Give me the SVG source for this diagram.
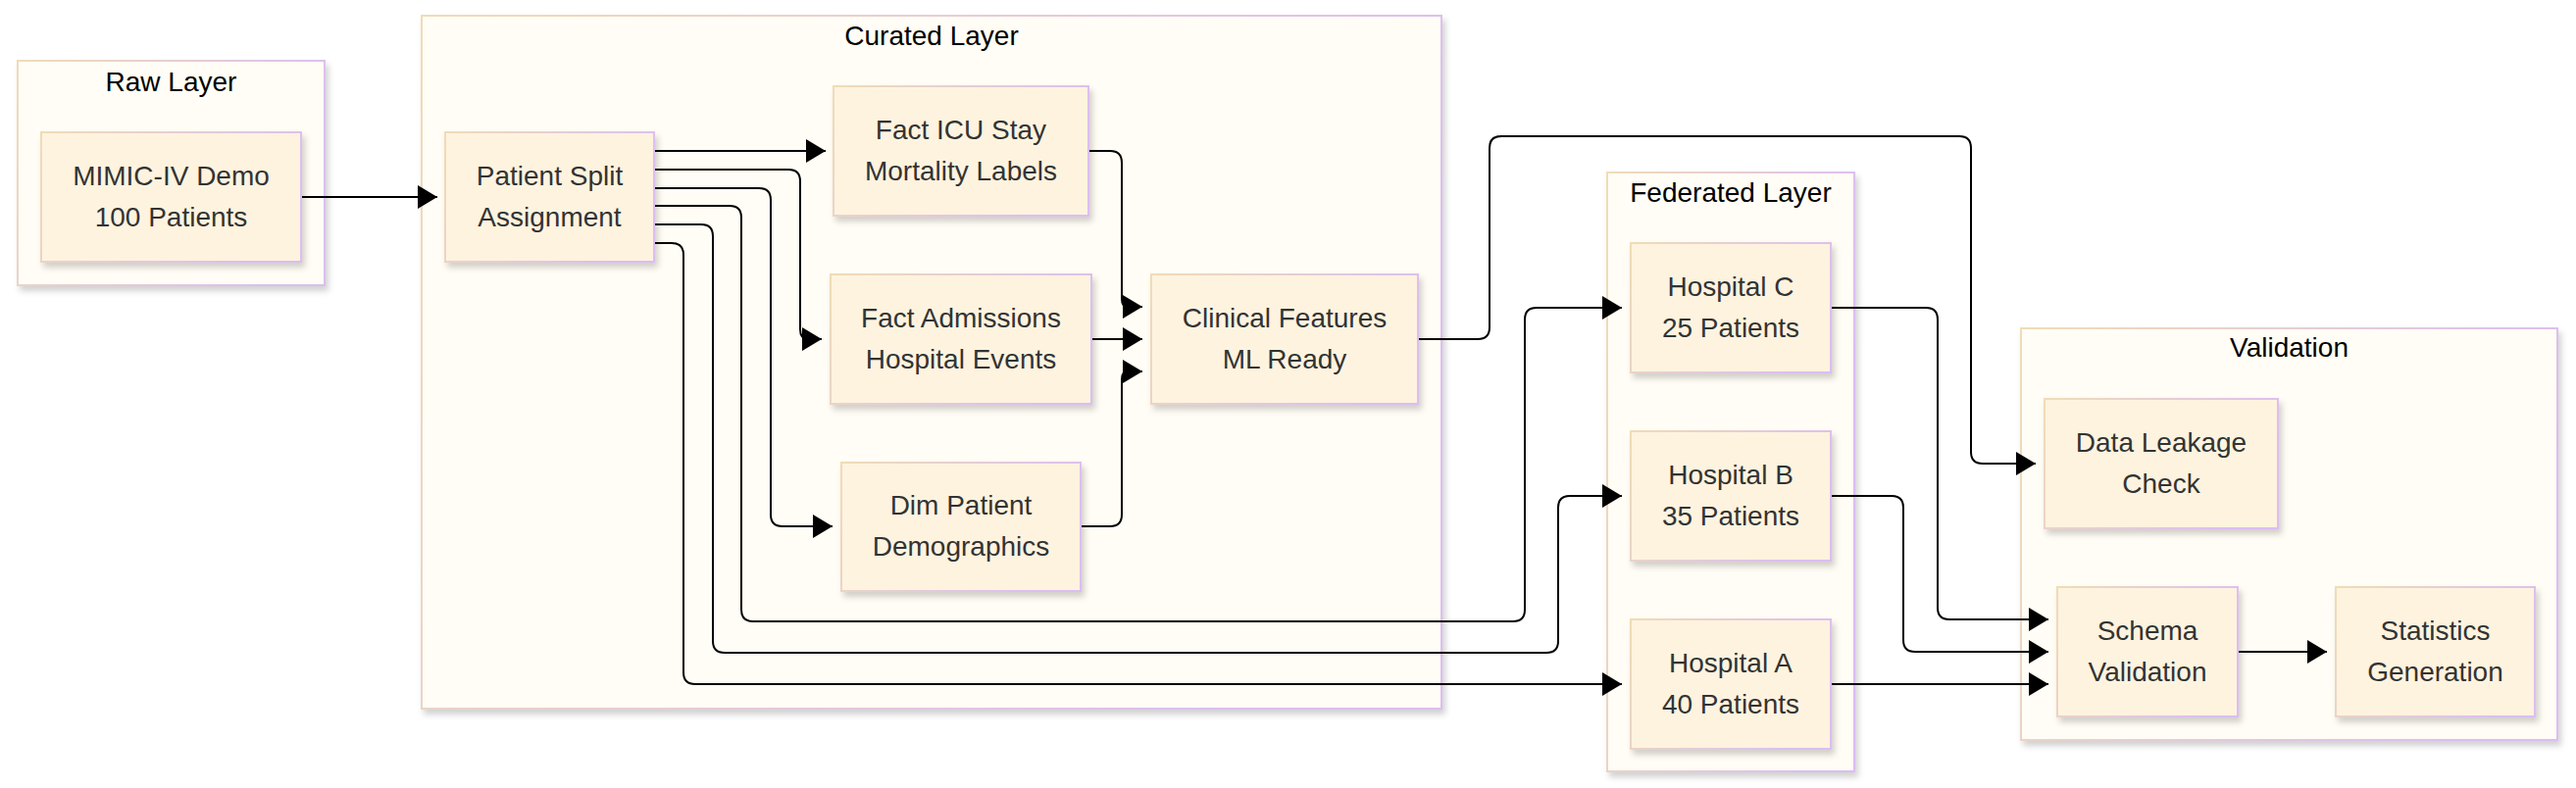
<svg xmlns="http://www.w3.org/2000/svg" width="2627" height="804" viewBox="0 0 2627 804">
<style>
.cluster rect{fill:#fffdf5;stroke:url(#bord);stroke-width:2;filter:url(#sh)}
.node rect{fill:#fef3df;stroke:url(#bord);stroke-width:2;filter:url(#sh)}
.ct{font-family:"Liberation Sans",Arial,sans-serif;font-size:28px;fill:#000;text-anchor:middle}
.nt{font-family:"Liberation Sans",Arial,sans-serif;font-size:28px;fill:#333;text-anchor:middle}
.edges path{fill:none;stroke:#000;stroke-width:2;marker-end:url(#arr)}
</style>
<defs>
<linearGradient id="bord" x1="0" y1="0" x2="1" y2="0.3">
<stop offset="0" stop-color="#f0dcb6"/>
<stop offset="1" stop-color="#dcbdf3"/>
</linearGradient>
<filter id="sh" x="-10%" y="-10%" width="130%" height="130%">
<feDropShadow dx="3" dy="5" stdDeviation="3" flood-color="#000" flood-opacity="0.18"/>
</filter>
<marker id="arr" markerUnits="userSpaceOnUse" markerWidth="20" markerHeight="24" refX="20" refY="12" orient="auto">
<path d="M0,0 L20,12 L0,24 z" fill="#000"/>
</marker>
</defs>
<rect width="2627" height="804" fill="#fff"/>
<g id="cluster-raw" class="cluster"><rect x="18" y="62" width="313" height="229"/><text class="ct" x="174.5" y="93">Raw Layer</text></g>
<g id="cluster-curated" class="cluster"><rect x="430" y="16" width="1040" height="707"/><text class="ct" x="950" y="46">Curated Layer</text></g>
<g id="cluster-federated" class="cluster"><rect x="1639" y="176" width="252" height="611"/><text class="ct" x="1765" y="206">Federated Layer</text></g>
<g id="cluster-validation" class="cluster"><rect x="2061" y="335" width="547" height="420"/><text class="ct" x="2334.5" y="364">Validation</text></g>
<g class="edges" id="connectors">
<path d="M307,201 H446"/>
<path d="M667,154 H842"/>
<path d="M667,173 H804 Q816,173 816,185 V336 Q816,346 824,346 H838"/>
<path d="M667,192 H774 Q786,192 786,204 V525 Q786,537 798,537 H849"/>
<path d="M667,210 H744 Q756,210 756,222 V622 Q756,634 768,634 H1543 Q1555,634 1555,622 V326 Q1555,314 1567,314 H1654"/>
<path d="M667,229 H715 Q727,229 727,241 V654 Q727,666 739,666 H1577 Q1589,666 1589,654 V518 Q1589,506 1601,506 H1654"/>
<path d="M667,248 H685 Q697,248 697,260 V686 Q697,698 709,698 H1654"/>
<path d="M1110,154 H1132 Q1144,154 1144,166 V305 Q1144,313 1150,313 H1165"/>
<path d="M1113,346 H1165"/>
<path d="M1102,537 H1132 Q1144,537 1144,525 V387 Q1144,379 1150,379 H1165"/>
<path d="M1446,346 H1507 Q1519,346 1519,334 V151 Q1519,139 1531,139 H1998 Q2010,139 2010,151 V461 Q2010,473 2022,473 H2076"/>
<path d="M1867,314 H1964 Q1976,314 1976,326 V620 Q1976,632 1988,632 H2089"/>
<path d="M1867,506 H1929 Q1941,506 1941,518 V653 Q1941,665 1953,665 H2089"/>
<path d="M1867,698 H2089"/>
<path d="M2282,665 H2373"/>
</g>
<g id="node-mimic" class="node"><rect x="42" y="135" width="265" height="132"/><text class="nt" x="174.5" y="189">MIMIC-IV Demo</text><text class="nt" x="174.5" y="231">100 Patients</text></g>
<g id="node-split" class="node"><rect x="454" y="135" width="213" height="132"/><text class="nt" x="560.5" y="189">Patient Split</text><text class="nt" x="560.5" y="231">Assignment</text></g>
<g id="node-icu" class="node"><rect x="850" y="88" width="260" height="132"/><text class="nt" x="980" y="142">Fact ICU Stay</text><text class="nt" x="980" y="184">Mortality Labels</text></g>
<g id="node-adm" class="node"><rect x="847" y="280" width="266" height="132"/><text class="nt" x="980" y="334">Fact Admissions</text><text class="nt" x="980" y="376">Hospital Events</text></g>
<g id="node-dim" class="node"><rect x="858" y="472" width="244" height="131"/><text class="nt" x="980" y="525">Dim Patient</text><text class="nt" x="980" y="567">Demographics</text></g>
<g id="node-clinical" class="node"><rect x="1174" y="280" width="272" height="132"/><text class="nt" x="1310" y="334">Clinical Features</text><text class="nt" x="1310" y="376">ML Ready</text></g>
<g id="node-hospc" class="node"><rect x="1663" y="248" width="204" height="132"/><text class="nt" x="1765" y="302">Hospital C</text><text class="nt" x="1765" y="344">25 Patients</text></g>
<g id="node-hospb" class="node"><rect x="1663" y="440" width="204" height="132"/><text class="nt" x="1765" y="494">Hospital B</text><text class="nt" x="1765" y="536">35 Patients</text></g>
<g id="node-hospa" class="node"><rect x="1663" y="632" width="204" height="132"/><text class="nt" x="1765" y="686">Hospital A</text><text class="nt" x="1765" y="728">40 Patients</text></g>
<g id="node-leak" class="node"><rect x="2085" y="407" width="238" height="132"/><text class="nt" x="2204" y="461">Data Leakage</text><text class="nt" x="2204" y="503">Check</text></g>
<g id="node-schema" class="node"><rect x="2098" y="599" width="184" height="132"/><text class="nt" x="2190" y="653">Schema</text><text class="nt" x="2190" y="695">Validation</text></g>
<g id="node-stats" class="node"><rect x="2382" y="599" width="203" height="132"/><text class="nt" x="2483.5" y="653">Statistics</text><text class="nt" x="2483.5" y="695">Generation</text></g>
</svg>
